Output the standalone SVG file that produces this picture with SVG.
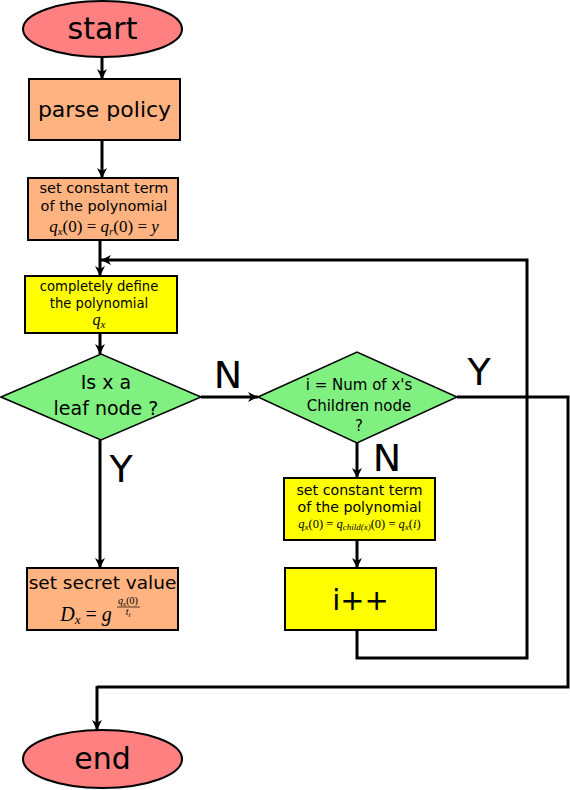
<svg xmlns="http://www.w3.org/2000/svg" width="570" height="790" viewBox="0 0 570 790">
<defs>
<marker id="ah" viewBox="0 0 10 10" refX="10" refY="5" markerWidth="11" markerHeight="10" orient="auto" markerUnits="userSpaceOnUse">
<path d="M0,0 L10,5 L0,10 L3,5 Z" fill="#000"/>
</marker>
<style>
.term{fill:#ff8080;stroke:#000;stroke-width:2}
.orange{fill:#ffb380;stroke:#000;stroke-width:2}
.yellow{fill:#ffff00;stroke:#000;stroke-width:2}
.green{fill:#80f080;stroke:#000;stroke-width:1.5}
.t{font-family:"DejaVu Sans",sans-serif;fill:#000;text-anchor:middle}
.m{font-family:"Liberation Serif","DejaVu Serif",serif;fill:#000;text-anchor:middle}
.i{font-style:italic}
.lbl{font-family:"DejaVu Sans",sans-serif;font-size:38px;fill:#000;text-anchor:middle}
.c{fill:none;stroke:#000;stroke-width:3}
.ca{fill:none;stroke:#000;stroke-width:3;marker-end:url(#ah)}
</style>
</defs>
<g id="connectors">
<path class="ca" d="M102,58 V79"/>
<path class="ca" d="M102,140 V178"/>
<path class="ca" d="M100,240 V276"/>
<path class="ca" d="M100,333 V354"/>
<path class="ca" d="M201,397 H258"/>
<path class="ca" d="M100,440 V568"/>
<path class="ca" d="M357,443 V478"/>
<path class="ca" d="M357,540 V568"/>
<path class="ca" d="M357,630 V658 H527 V260 H101"/>
<path class="c" d="M457,397 H568 V687 H97"/>
<path class="ca" d="M97,686 V730"/>
</g>
<g id="start">
<ellipse class="term" cx="102.5" cy="29" rx="79.5" ry="28"/>
<text class="t" x="102.5" y="39" font-size="30">start</text>
</g>
<g id="parse">
<rect class="orange" x="29" y="79" width="151" height="61"/>
<text class="t" x="104.5" y="117" font-size="22">parse policy</text>
</g>
<g id="setconst1">
<rect class="orange" x="28" y="178" width="150" height="62"/>
<text class="t" x="104" y="193" font-size="14.5">set constant term</text>
<text class="t" x="104" y="211" font-size="14.5">of the polynomial</text>
<text class="m" x="104" y="232" font-size="17"><tspan class="i">q</tspan><tspan class="i" font-size="11" dy="3">x</tspan><tspan dy="-3">(0) = </tspan><tspan class="i">q</tspan><tspan class="i" font-size="11" dy="3">r</tspan><tspan dy="-3">(0) = </tspan><tspan class="i">y</tspan></text>
</g>
<g id="define">
<rect class="yellow" x="25" y="276" width="152" height="57"/>
<text class="t" x="99" y="291" font-size="13.2">completely define</text>
<text class="t" x="99" y="308" font-size="13.2">the polynomial</text>
<text class="m" x="99" y="325" font-size="16"><tspan class="i">q</tspan><tspan class="i" font-size="11" dy="3">x</tspan></text>
</g>
<g id="leaf">
<polygon class="green" points="1,397 101,354 201,397 101,440"/>
<text class="t" x="106" y="389" font-size="19">Is x a</text>
<text class="t" x="106" y="415" font-size="19">leaf node ?</text>
</g>
<g id="children">
<polygon class="green" points="258,397 357,352 457,397 357,443"/>
<text class="t" x="359" y="390" font-size="15">i = Num of x's</text>
<text class="t" x="359" y="411" font-size="15">Children node</text>
<text class="t" x="359" y="431" font-size="15">?</text>
</g>
<g id="setconst2">
<rect class="yellow" x="284" y="478" width="151" height="62"/>
<text class="t" x="359.5" y="495" font-size="14.2">set constant term</text>
<text class="t" x="359.5" y="512" font-size="14.2">of the polynomial</text>
<text class="m" x="359.5" y="528" font-size="12.5"><tspan class="i">q</tspan><tspan class="i" font-size="9" dy="2">x</tspan><tspan dy="-2">(0) = </tspan><tspan class="i">q</tspan><tspan class="i" font-size="9" dy="2">child(x)</tspan><tspan dy="-2">(0) = </tspan><tspan class="i">q</tspan><tspan class="i" font-size="9" dy="2">x</tspan><tspan dy="-2">(</tspan><tspan class="i">i</tspan><tspan>)</tspan></text>
</g>
<g id="iplus">
<rect class="yellow" x="285" y="568" width="151" height="62"/>
<text class="t" x="360.5" y="610" font-size="29">i++</text>
</g>
<g id="secret">
<rect class="orange" x="27" y="568" width="151" height="62"/>
<text class="t" x="102.5" y="589" font-size="18.5">set secret value</text>
<text class="m" x="86" y="621" font-size="20"><tspan class="i">D</tspan><tspan class="i" font-size="13" dy="3">x</tspan><tspan dy="-3"> = </tspan><tspan class="i">g</tspan></text>
<text class="m" x="128" y="604" font-size="10"><tspan class="i">q</tspan><tspan class="i" font-size="7" dy="2">x</tspan><tspan dy="-2">(0)</tspan></text>
<line x1="117" y1="607" x2="140" y2="607" stroke="#000" stroke-width="0.7"/>
<text class="m i" x="128" y="615" font-size="10">t<tspan font-size="7" dy="2">i</tspan></text>
</g>
<g id="end">
<ellipse class="term" cx="102.5" cy="759" rx="79.5" ry="29"/>
<text class="t" x="102.5" y="769" font-size="30">end</text>
</g>
<g id="labels">
<text class="lbl" x="228" y="388">N</text>
<text class="lbl" x="479" y="385">Y</text>
<text class="lbl" x="121" y="482">Y</text>
<text class="lbl" x="387" y="471">N</text>
</g>
</svg>
